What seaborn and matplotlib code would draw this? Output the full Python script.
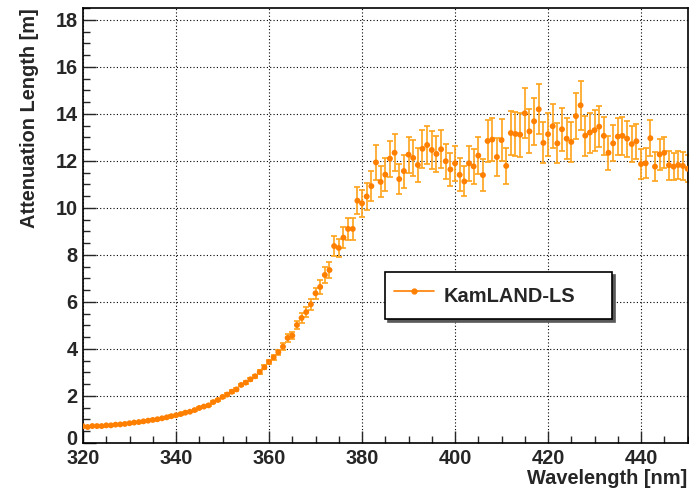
import matplotlib
matplotlib.use('Agg')
import matplotlib.pyplot as plt
from matplotlib.lines import Line2D
from matplotlib.ticker import MultipleLocator, FuncFormatter
import pandas as pd
import seaborn as sns

wavelength = list(range(320, 451))

atten = [
    0.71, 0.68, 0.72, 0.72, 0.72, 0.75, 0.75, 0.78, 0.79, 0.81,
    0.84, 0.87, 0.89, 0.92, 0.95, 0.98, 1.01, 1.05, 1.09, 1.14,
    1.18, 1.23, 1.29, 1.33, 1.40, 1.49, 1.55, 1.60, 1.74, 1.83,
    1.96, 2.06, 2.18, 2.28, 2.47, 2.57, 2.71, 2.84, 3.02, 3.22,
    3.45, 3.64, 3.86, 4.10, 4.47, 4.57, 5.02, 5.32, 5.57, 5.90,
    6.37, 6.64, 7.15, 7.36, 8.38, 8.30, 8.74, 9.11, 9.11, 10.31,
    10.20, 10.49, 10.93, 11.94, 11.11, 11.42, 12.10, 12.35, 11.23, 11.57,
    12.27, 12.13, 11.83, 12.52, 12.68, 12.47, 12.30, 12.50, 11.99, 11.64,
    11.90, 11.41, 11.13, 11.90, 11.77, 12.23, 11.40, 12.85, 12.91, 12.17,
    12.89, 11.79, 13.19, 13.15, 13.12, 14.03, 13.26, 13.69, 14.20, 12.77,
    13.14, 13.48, 12.75, 13.35, 12.95, 12.81, 13.91, 14.37, 13.08, 13.21,
    13.31, 13.46, 13.07, 12.35, 12.75, 13.04, 13.07, 12.95, 12.72, 12.84,
    11.87, 11.90, 12.97, 11.76, 12.28, 12.35, 11.82, 11.76, 11.83, 11.79,
    11.67,
]

atten_err = [
    0.02, 0.02, 0.02, 0.02, 0.02, 0.02, 0.02, 0.02, 0.02, 0.02,
    0.02, 0.02, 0.02, 0.02, 0.02, 0.03, 0.03, 0.03, 0.03, 0.03,
    0.03, 0.03, 0.03, 0.03, 0.04, 0.04, 0.04, 0.04, 0.05, 0.05,
    0.05, 0.05, 0.06, 0.06, 0.06, 0.06, 0.07, 0.07, 0.07, 0.08,
    0.08, 0.09, 0.11, 0.14, 0.16, 0.15, 0.18, 0.20, 0.20, 0.23,
    0.24, 0.28, 0.33, 0.34, 0.43, 0.40, 0.46, 0.46, 0.46, 0.58,
    0.58, 0.59, 0.65, 0.76, 0.66, 0.69, 0.77, 0.79, 0.65, 0.70,
    0.76, 0.75, 0.72, 0.81, 0.82, 0.79, 0.77, 0.80, 0.74, 0.71,
    0.75, 0.70, 0.64, 0.75, 0.73, 0.80, 0.69, 0.88, 0.90, 0.79,
    0.90, 0.75, 0.94, 0.93, 0.93, 1.06, 0.94, 0.99, 1.06, 0.87,
    0.92, 0.94, 0.85, 0.92, 0.87, 0.85, 0.97, 1.04, 0.85, 0.85,
    0.87, 0.88, 0.82, 0.72, 0.77, 0.79, 0.80, 0.77, 0.75, 0.75,
    0.64, 0.64, 0.76, 0.61, 0.67, 0.66, 0.61, 0.59, 0.61, 0.59,
    0.57,
]

df = pd.DataFrame({'wl': wavelength, 'att': atten, 'err': atten_err})

sns.set_style('ticks')
plt.rcParams['font.family'] = ['Liberation Sans', 'DejaVu Sans']
plt.rcParams['font.weight'] = 'bold'

fs = 14.4

fig = plt.figure(figsize=(6.89, 4.91), dpi=100)
ax = fig.add_axes([0.1205, 0.0978, 0.8774, 0.8854])

point_color = '#ff7f00'
bar_color = '#ffa31a'

# Fehlerbalken + Punkte
ax.errorbar(df['wl'], df['att'], yerr=df['err'], fmt='none', ecolor=bar_color,
            elinewidth=1.2, capsize=2.5, capthick=1.2, zorder=2)
sns.scatterplot(data=df, x='wl', y='att', ax=ax, color=point_color, marker='o',
                s=18, edgecolor='none', zorder=3, legend=False)

ax.set_xlim(320, 450)
ax.set_ylim(0, 18.5)
ax.xaxis.set_major_locator(MultipleLocator(20))
ax.xaxis.set_minor_locator(MultipleLocator(5))
ax.yaxis.set_major_locator(MultipleLocator(2))
ax.yaxis.set_minor_locator(MultipleLocator(0.5))
# die "0" wird extra gesetzt, knapp über der "320"
ax.yaxis.set_major_formatter(FuncFormatter(lambda v, p: '' if v == 0 else f'{v:g}'))

ax.grid(True, which='major', color='black', linestyle=(0, (1, 2)), linewidth=0.8)
ax.set_axisbelow(True)
ax.tick_params(which='major', direction='in', length=9, width=1, labelsize=fs, pad=4)
ax.tick_params(which='minor', direction='in', length=5, width=1)
for s in ax.spines.values():
    s.set_linewidth(1.2)
    s.set_color('black')

ax.annotate('0', xy=(0, 0), xycoords='axes fraction', xytext=(-4, -4.6),
            textcoords='offset points', ha='right', va='bottom',
            fontsize=fs, fontweight='bold')

ax.set_xlabel('Wavelength [nm]', fontsize=fs, fontweight='bold', ha='right', va='top')
ax.set_ylabel('Attenuation Length [m]', fontsize=fs, fontweight='bold', ha='right')
ax.xaxis.set_label_coords(1.0, -0.061)
ax.yaxis.set_label_coords(-0.073, 1.0)

# Legende
proxy = Line2D([], [], color=point_color, marker='o', markersize=3.5, linewidth=1.2)
leg = ax.legend(handles=[proxy], labels=['KamLAND-LS'], mode='expand',
                bbox_to_anchor=(0.50, 0.276, 0.375, 0.126), loc='center',
                borderpad=0.42, handleheight=1.9, handlelength=2.0, handletextpad=0.5,
                borderaxespad=0, fancybox=False, edgecolor='black', framealpha=1,
                shadow={'color': '0.35', 'alpha': 1},
                prop={'weight': 'bold', 'size': fs})
leg.get_frame().set_linewidth(1.2)

fig.savefig('out.png', dpi=100)
